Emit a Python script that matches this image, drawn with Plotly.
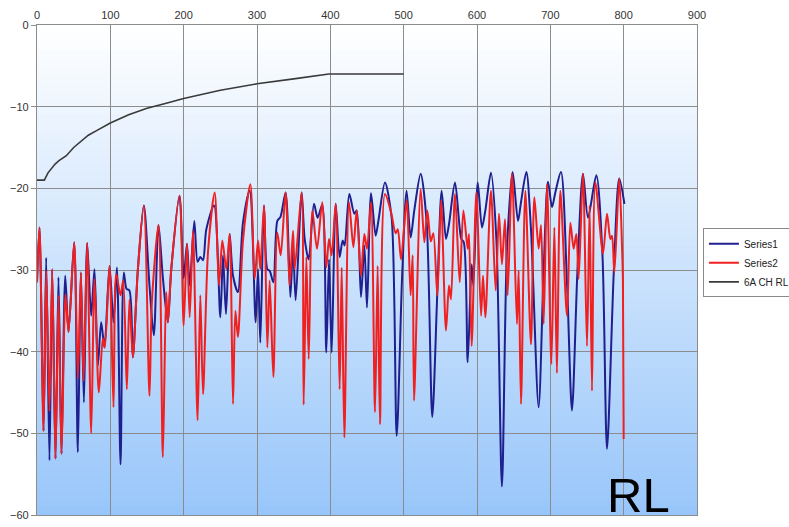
import plotly.graph_objects as go

# ---------------- data ----------------
s1_x = [0, 3.4, 8.9, 12.5, 17, 20.7, 25.2, 29.3, 33.4, 38.5, 43, 50.7, 55.7, 59.8, 64, 68.4,
        73.9, 78.4, 83, 87.5, 92, 98.9, 104.3, 109, 113.9, 118.4, 122, 126, 130.7, 137.5,
        145.7, 153.4, 159.3, 165.7, 171.6, 178.4, 183, 194.3, 200, 204.5, 208.2, 214.5, 219,
        222.7, 226.4, 230.9, 241.4, 250, 253.6, 257.7, 262.7, 267.3, 274, 280.9, 290, 298.2,
        301.4, 304.5, 309.5, 314.1, 317.3, 322.3, 327.7, 332, 339, 345.5, 349.1, 352.7, 360.9,
        365, 370.5, 377.7, 382.7, 389, 394.5, 398.2, 401.8, 407.3, 412.7, 416.8, 419.5, 425.9,
        432.7, 435.9, 441.8, 446.4, 450, 455.5, 461.8, 465.5, 474.5, 483.6, 490.5, 498, 504,
        509.5, 514.5, 523.2, 531.4, 539, 545.9, 551.8, 557.7, 561.8, 570, 578.6, 582, 587.3,
        592.7, 595, 601, 606.8, 611.4, 619, 626.4, 634, 640.9, 648.6, 655.9, 660, 667.3,
        673.6, 684, 690.9, 696.8, 702.3, 706.8, 714.5, 722.7, 729.5, 737, 744.5, 751.4, 762.7,
        771, 777.3, 786.5, 794, 801]
s1_y = [-31.5, -24.8, -49.7, -28.5, -53.3, -29.9, -53.1, -30.9, -52.5, -30.7, -37.6, -26.6,
        -52.3, -30.3, -46.2, -26.7, -35.6, -29.9, -41.7, -36.4, -39.5, -29.5, -36.4, -29.7,
        -53.8, -30.3, -32.3, -32.5, -40.7, -30.0, -22.1, -31.9, -38.0, -24.5, -30.9, -36.4,
        -30.0, -20.9, -31.0, -26.8, -31.9, -24.0, -29.0, -28.4, -28.8, -25.0, -22.1, -35.8,
        -28.2, -35.4, -25.6, -30.7, -32.7, -24.2, -20.3, -36.4, -29.9, -38.9, -22.1, -29.9,
        -30.1, -31.5, -24.0, -23.5, -20.5, -33.3, -27.0, -33.7, -20.5, -26.2, -28.7, -21.9,
        -23.6, -22.0, -40.1, -28.7, -40.1, -21.9, -28.4, -26.4, -27.0, -20.7, -23.1, -22.7,
        -33.3, -27.0, -34.6, -20.6, -25.8, -24.0, -19.3, -23.6, -50.3, -30.5, -20.3, -26.0,
        -22.7, -18.2, -24.2, -48.0, -32.7, -20.3, -26.2, -24.4, -19.3, -26.2, -26.6, -41.3,
        -29.3, -31.9, -19.3, -24.8, -22.7, -18.1, -26.2, -56.5, -27.4, -18.0, -24.0, -21.7,
        -18.0, -25.0, -46.8, -30.0, -19.2, -22.3, -20.5, -18.0, -31.5, -47.2, -30.0, -18.2,
        -23.6, -18.4, -28.0, -51.9, -30.3, -18.8, -21.9]

s2_x = [0, 3.4, 8.9, 12.5, 17, 20.7, 25.2, 29.3, 33.4, 38.9, 43, 50.7, 55.7, 59.8, 63.5,
        68.4, 73.9, 78.4, 84.3, 89.8, 92.5, 98.9, 104.3, 108, 113.9, 117.5, 122.5, 126.1,
        130.7, 137.5, 145.7, 153.4, 156.6, 165.7, 171.6, 176.1, 178.4, 183, 194.3, 200, 204.5,
        208.2, 212.7, 219, 222.7, 226.4, 233.2, 242.3, 248.2, 252.7, 258.2, 262.7, 267.3,
        270.5, 274, 280.9, 290.9, 296.8, 301.4, 304.5, 309.5, 314.1, 317.3, 322.3, 327.7,
        332.3, 339, 344.5, 349.1, 351.4, 360.9, 363.6, 367.3, 370.5, 375.5, 381.8, 389, 394.5,
        398.2, 401.8, 407.3, 412.7, 415.5, 419.1, 425.5, 431.4, 435.9, 441.8, 446.4, 450,
        455.5, 460.9, 464.5, 467.7, 474.5, 483, 489, 492, 496.4, 504, 509.5, 512.3, 514.1,
        523.2, 528.2, 532.3, 537, 540.5, 545.9, 551, 557.7, 561.8, 564.5, 570, 576.4, 581.4,
        587.3, 589.1, 592.7, 599.1, 605.5, 608.2, 611.4, 619, 625.5, 630, 634, 638.2, 641.8,
        647.7, 654.5, 656.8, 660, 665.9, 673.6, 678.2, 684, 687.3, 690.9, 695.5, 701.4, 705.5,
        709, 713.6, 722.7, 727.3, 731.8, 735.5, 738.6, 744.5, 750, 753.6, 756.8, 761.4, 771.8,
        777.3, 781.8, 784.1, 787.3, 794, 797.7, 799, 800]
s2_y = [-31.5, -24.8, -49.7, -30.1, -47.3, -29.9, -53.1, -33.1, -52.5, -33.0, -37.6, -26.6,
        -43.3, -30.3, -43.6, -26.7, -50.0, -31.1, -45.0, -38.4, -39.5, -29.5, -46.8, -30.5,
        -33.1, -31.3, -44.6, -33.6, -40.7, -30.0, -22.1, -45.4, -34.0, -24.5, -52.9, -32.7,
        -36.4, -30.0, -20.9, -36.8, -26.8, -35.8, -25.2, -48.4, -33.1, -45.2, -27.8, -20.5,
        -31.9, -26.4, -29.9, -25.6, -46.4, -35.0, -38.2, -26.4, -19.5, -31.1, -26.4, -29.9,
        -22.1, -39.5, -31.3, -43.1, -25.4, -28.2, -20.5, -31.9, -25.2, -29.9, -20.5, -46.5,
        -28.4, -40.9, -22.7, -27.4, -21.7, -29.7, -26.2, -28.2, -21.9, -44.6, -29.7, -50.5,
        -21.7, -27.2, -22.7, -30.7, -25.6, -27.4, -21.7, -47.4, -29.5, -48.9, -20.7, -23.0,
        -25.5, -25.0, -28.7, -21.5, -33.1, -28.2, -46.0, -20.1, -26.6, -22.7, -26.5, -25.5,
        -33.1, -21.5, -37.4, -31.9, -33.6, -20.7, -31.5, -22.7, -27.4, -25.6, -39.3, -20.5,
        -35.6, -30.7, -35.8, -20.3, -32.5, -23.1, -29.3, -23.8, -33.1, -18.2, -36.6, -30.1,
        -46.4, -20.3, -39.1, -21.1, -27.4, -24.5, -36.6, -19.5, -41.5, -24.8, -42.6, -20.3,
        -35.6, -24.2, -27.4, -25.6, -31.1, -18.2, -39.3, -22.1, -44.8, -19.3, -28.0, -23.1,
        -26.2, -25.8, -30.3, -18.8, -27.0, -31.3, -50.7]

lim_x = [0, 10, 15, 20, 25, 30, 35, 40, 50, 60, 70, 80, 90, 100, 125, 150, 175, 200, 250,
         300, 350, 398, 500]
lim_y = [-19.0, -19.0, -18.1, -17.5, -17.0, -16.6, -16.3, -16.0, -15.0, -14.2, -13.5, -13.0,
         -12.5, -12.0, -11.0, -10.2, -9.6, -9.0, -8.0, -7.2, -6.6, -6.0, -6.0]

x_ticks = [0, 100, 200, 300, 400, 500, 600, 700, 800, 900]
y_ticks = [0, -10, -20, -30, -40, -50, -60]

# ---------------- figure ----------------
fig = go.Figure()
fig.add_trace(go.Scatter(x=s1_x, y=s1_y, name="Series1", mode="lines",
                         line=dict(color="#1f1f8f", width=2, shape="spline", smoothing=0.8)))
fig.add_trace(go.Scatter(x=s2_x, y=s2_y, name="Series2", mode="lines",
                         line=dict(color="#f02020", width=2, shape="spline", smoothing=0.8)))
fig.add_trace(go.Scatter(x=lim_x, y=lim_y, name="6A CH RL", mode="lines",
                         line=dict(color="#3a3a3a", width=1.6)))

# gradient plot background (white at top to light blue at bottom)
n_bands = 60
top = (255, 255, 255)
bot = (152, 198, 250)
shapes = []
for i in range(n_bands):
    t = (i + 0.5) / n_bands
    c = tuple(int(round(top[k] + (bot[k] - top[k]) * t)) for k in range(3))
    y0 = -60 * i / n_bands
    y1 = -60 * (i + 1) / n_bands - (0.4 if i < n_bands - 1 else 0)
    shapes.append(dict(type="rect", xref="paper", yref="y", x0=0, x1=1, y0=y0, y1=y1,
                       fillcolor="rgb(%d,%d,%d)" % c, line=dict(width=0), layer="below"))

fig.update_layout(
    width=789, height=527,
    margin=dict(l=37, r=92, t=25, b=12, autoexpand=False),
    paper_bgcolor="white", plot_bgcolor="white",
    shapes=shapes,
    font=dict(family="Liberation Sans, Arial, sans-serif", size=11, color="#333333"),
    showlegend=True,
    legend=dict(x=1.009, y=0.585, xanchor="left", yanchor="top",
                bordercolor="#8a8a8a", borderwidth=1, bgcolor="white",
                font=dict(size=10, color="#222222"), itemwidth=30,
                tracegroupgap=0),
    annotations=[dict(x=820, y=-60, xref="x", yref="y", text="RL", showarrow=False,
                      xanchor="center", yanchor="bottom", yshift=-9,
                      font=dict(size=49, color="black",
                                family="Liberation Sans, Arial, sans-serif"))],
)
fig.update_xaxes(side="top", range=[0, 900], tickvals=x_ticks, ticks="",
                 showgrid=True, gridcolor="#8c8c8c", gridwidth=1.3,
                 showline=True, linecolor="#8c8c8c", linewidth=1.3, mirror=True,
                 zeroline=False, fixedrange=True)
fig.update_yaxes(range=[-60, 0], tickvals=y_ticks, ticks="outside", ticklen=5,
                 tickcolor="#8c8c8c",
                 showgrid=True, gridcolor="#8c8c8c", gridwidth=1.3,
                 showline=True, linecolor="#8c8c8c", linewidth=1.3, mirror=True,
                 zeroline=False, fixedrange=True)

fig.write_html("out.html")
